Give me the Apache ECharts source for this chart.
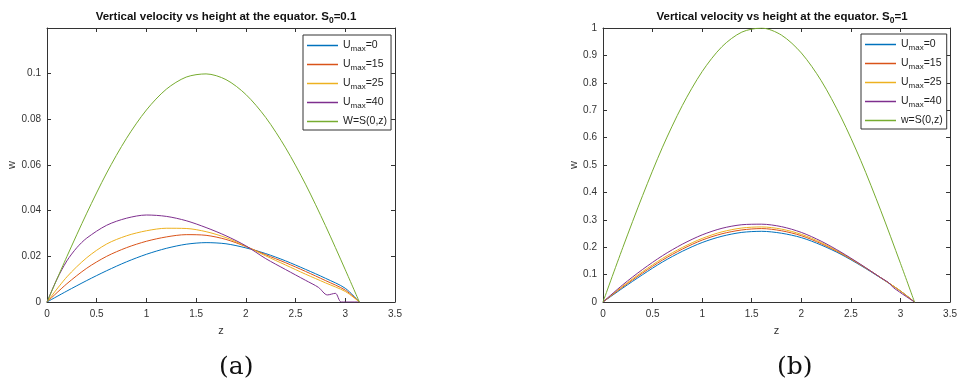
<!DOCTYPE html>
<html lang="en">
<head>
<meta charset="UTF-8">
<script src="https://cdn.jsdelivr.net/npm/echarts@6/dist/echarts.min.js"></script>
<style>
  html, body { margin: 0; padding: 0; background: #fff; }
  #main { width: 960px; height: 389px; }
</style>
</head>
<body>
<div id="main"></div>
<script>
// z samples shared by most curves
var zGrid = [0, 0.2, 0.4, 0.6, 0.8, 1.0, 1.2, 1.4, 1.6, 1.8, 2.0, 2.2, 2.4, 2.6, 2.8, 3.0, 3.1416];

// (a) S0 = 0.1
var blueA   = [0, .0048, .0094, .0137, .0176, .0209, .0235, .0253, .0260, .0255, .0237, .0212, .0180, .0143, .0104, .0060, 0];
var redA    = [0, .0080, .0148, .0200, .0238, .0266, .0285, .0295, .0292, .0274, .0243, .0207, .0172, .0134, .0094, .0052, 0];
var yellowA = [0, .0110, .0194, .0254, .0290, .0312, .0323, .0322, .0308, .0282, .0244, .0202, .0162, .0122, .0084, .0046, 0];
var zPurpleA = [0, 0.1, 0.2, 0.3, 0.4, 0.6, 0.8, 1.0, 1.2, 1.4, 1.6, 1.8, 2.0, 2.2, 2.4, 2.6, 2.73, 2.82, 2.9, 2.96, 3.1416];
var purpleA = [0, .0100, .0180, .0238, .0280, .0336, .0367, .0381, .0375, .0356, .0326, .0290, .0246, .0190, .0142, .0095, .0064, .0031, .0038, 0, 0];
var greenA  = [0, .0199, .0389, .0565, .0717, .0841, .0932, .0985, .0999, .0974, .0909, .0808, .0675, .0516, .0335, .0141, 0];

// (b) S0 = 1
var blueB   = [0, .051, .100, .146, .185, .217, .240, .254, .258, .251, .235, .208, .174, .133, .088, .040, 0];
var redB    = [0, .055, .106, .153, .193, .226, .249, .263, .268, .260, .242, .213, .177, .135, .089, .040, 0];
var yellowB = [0, .058, .111, .159, .199, .232, .256, .270, .274, .266, .247, .217, .179, .136, .089, .040, 0];
var zPurpleB = [0, 0.2, 0.4, 0.6, 0.8, 1.0, 1.2, 1.4, 1.6, 1.8, 2.0, 2.2, 2.4, 2.6, 2.8, 2.88, 2.93, 3.1416];
var purpleB = [0, .063, .119, .169, .211, .245, .269, .282, .284, .275, .254, .222, .182, .137, .089, .071, .052, 0];
var greenB  = [0, .199, .389, .565, .717, .841, .932, .985, .9996, .974, .909, .808, .675, .516, .335, .141, 0];

var namesA = ['U_max=0', 'U_max=15', 'U_max=25', 'U_max=40', 'W=S(0,z)'];
var namesB = ['U_max=0 ', 'U_max=15 ', 'U_max=25 ', 'U_max=40 ', 'w=S(0,z)'];
var colors = ['#0072BD', '#D95319', '#EDB120', '#7E2F8E', '#77AC30'];

function pairs(zs, ws) {
  var out = [];
  for (var i = 0; i < ws.length; i++) out.push([zs[i], ws[i]]);
  return out;
}

var font = 'Liberation Sans';
var axisCol = '#333';
var subRich = {
  s: { fontSize: 8, fontFamily: font, color: '#222', padding: [7, 0, 0, 0] },
  b: { fontSize: 10.5, fontFamily: font, color: '#222' }
};
var titleRich = {
  s: { fontSize: 8.5, fontFamily: font, fontWeight: 'bold', color: '#111', padding: [8, 0, 0, 0] },
  t: { fontSize: 11.5, fontFamily: font, fontWeight: 'bold', color: '#111' }
};

var grids = [
  { left: 47, top: 28, width: 348, height: 274 },
  { left: 603, top: 28, width: 349, height: 274 }
];

function xAx(gi, pos) {
  var main = pos === 'bottom';
  return {
    type: 'value', gridIndex: gi, position: pos, min: 0, max: 3.5, interval: 0.5,
    name: main ? 'z' : '', nameLocation: 'middle', nameGap: 23,
    nameTextStyle: { fontFamily: font, fontSize: 11, color: axisCol },
    axisLine: { show: true, onZero: false, lineStyle: { color: axisCol, width: 1 } },
    axisTick: { show: true, inside: true, length: 4, lineStyle: { color: axisCol } },
    axisLabel: { show: main, fontFamily: font, fontSize: 10, color: axisCol, margin: 7,
      formatter: function (v) { return String(v); } },
    splitLine: { show: false }
  };
}
function yAx(gi, pos, max, interval, hideTop) {
  var main = pos === 'left';
  return {
    type: 'value', gridIndex: gi, position: pos, min: 0, max: max, interval: interval,
    name: main ? 'w' : '', nameLocation: 'middle', nameGap: main ? (gi === 0 ? 29 : 24) : 0, nameRotate: 90,
    nameTextStyle: { fontFamily: font, fontSize: 11, color: axisCol },
    axisLine: { show: true, onZero: false, lineStyle: { color: axisCol, width: 1 } },
    axisTick: { show: true, inside: true, length: 4, lineStyle: { color: axisCol } },
    axisLabel: { show: main, fontFamily: font, fontSize: 10, color: axisCol, margin: 6,
      formatter: function (v) {
        if (hideTop && v > max - 1e-9) return '';
        return String(+v.toFixed(3));
      } },
    splitLine: { show: false }
  };
}

var seriesList = [];
var dataA = [pairs(zGrid, blueA), pairs(zGrid, redA), pairs(zGrid, yellowA), pairs(zPurpleA, purpleA), pairs(zGrid, greenA)];
var dataB = [pairs(zGrid, blueB), pairs(zGrid, redB), pairs(zGrid, yellowB), pairs(zPurpleB, purpleB), pairs(zGrid, greenB)];
for (var i = 0; i < 5; i++) {
  seriesList.push({ type: 'line', name: namesA[i], xAxisIndex: 0, yAxisIndex: 0, data: dataA[i],
    symbol: 'none', smooth: 0.3, lineStyle: { color: colors[i], width: 1 }, itemStyle: { color: colors[i] } });
  seriesList.push({ type: 'line', name: namesB[i], xAxisIndex: 2, yAxisIndex: 2, data: dataB[i],
    symbol: 'none', smooth: 0.3, lineStyle: { color: colors[i], width: 1 }, itemStyle: { color: colors[i] } });
}

function legendFor(names, left, top) {
  return {
    data: names.map(function (n) { return { name: n, icon: 'rect' }; }),
    orient: 'vertical', left: left, top: top,
    itemWidth: 31, itemHeight: 1.5, itemGap: 6, padding: [5, 4, 3, 4],
    backgroundColor: '#fff', borderColor: '#333', borderWidth: 1, borderRadius: 0,
    selectedMode: false,
    textStyle: { fontFamily: font, fontSize: 10.5, color: '#222', rich: subRich },
    formatter: function (n) {
      n = n.trim();
      if (n.indexOf('_max') >= 0) {
        var p = n.split('_max');
        return '{b|' + p[0] + '}{s|max}{b|' + p[1] + '}';
      }
      return '{b|' + n + '}';
    }
  };
}

var option = {
  animation: false,
  backgroundColor: '#fff',
  title: [
    { text: '{t|Vertical velocity vs height at the equator. S}{s|0}{t|=0.1}', left: 221, top: 3, textAlign: 'center',
      textStyle: { rich: titleRich } },
    { text: '{t|Vertical velocity vs height at the equator. S}{s|0}{t|=1}', left: 777, top: 3, textAlign: 'center',
      textStyle: { rich: titleRich } }
  ],
  grid: grids,
  xAxis: [xAx(0, 'bottom'), xAx(0, 'top'), xAx(1, 'bottom'), xAx(1, 'top')],
  yAxis: [yAx(0, 'left', 0.12, 0.02, true), yAx(0, 'right', 0.12, 0.02, true),
          yAx(1, 'left', 1, 0.1, false), yAx(1, 'right', 1, 0.1, false)],
  legend: [legendFor(namesA, 303, 35), legendFor(namesB, 861, 34)],
  series: seriesList,
  graphic: [
    { type: 'text', left: 219, top: 355, style: { text: '(a)', font: '25px "DejaVu Serif"', fill: '#111' } },
    { type: 'text', left: 777, top: 355, style: { text: '(b)', font: '25px "DejaVu Serif"', fill: '#111' } }
  ]
};

var chart = echarts.init(document.getElementById('main'));
chart.setOption(option);
</script>
</body>
</html>
